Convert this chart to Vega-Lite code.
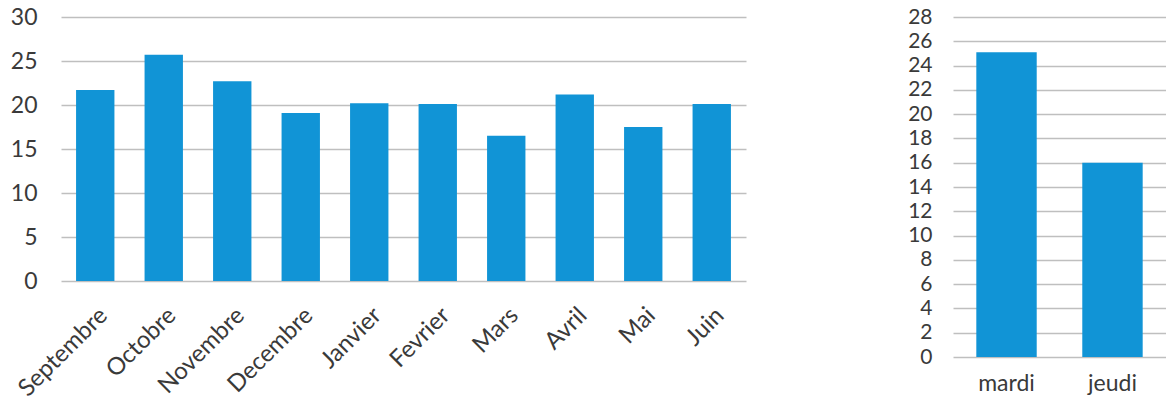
{
  "$schema": "https://vega.github.io/schema/vega-lite/v6.json",
  "background": "white",
  "padding": {"left": 10, "top": 6, "right": 0, "bottom": 0},
  "spacing": 161,
  "config": {
    "view": {"stroke": null},
    "font": "Lato",
    "axis": {
      "labelFont": "Lato",
      "labelColor": "#3A3A3A",
      "domain": false,
      "ticks": false,
      "gridColor": "#BFBFBF",
      "gridWidth": 1.5,
      "title": null
    },
    "bar": {"color": "#1194D6"}
  },
  "hconcat": [
    {
      "width": 685,
      "height": 264,
      "data": {
        "values": [
          {"mois": "Septembre", "valeur": 21.7},
          {"mois": "Octobre", "valeur": 25.7},
          {"mois": "Novembre", "valeur": 22.7},
          {"mois": "Decembre", "valeur": 19.1},
          {"mois": "Janvier", "valeur": 20.2},
          {"mois": "Fevrier", "valeur": 20.1},
          {"mois": "Mars", "valeur": 16.5},
          {"mois": "Avril", "valeur": 21.2},
          {"mois": "Mai", "valeur": 17.5},
          {"mois": "Juin", "valeur": 20.1}
        ]
      },
      "mark": "bar",
      "encoding": {
        "x": {
          "field": "mois",
          "type": "nominal",
          "sort": null,
          "scale": {"paddingInner": 0.44, "paddingOuter": 0.22},
          "axis": {"labelAngle": -45, "labelFontSize": 24, "labelPadding": 22}
        },
        "y": {
          "field": "valeur",
          "type": "quantitative",
          "scale": {"domain": [0, 30]},
          "axis": {"values": [0, 5, 10, 15, 20, 25, 30], "labelFontSize": 23, "labelPadding": 24}
        }
      }
    },
    {
      "width": 213,
      "height": 340,
      "data": {
        "values": [
          {"jour": "mardi", "valeur": 25.1},
          {"jour": "jeudi", "valeur": 16}
        ]
      },
      "mark": "bar",
      "encoding": {
        "x": {
          "field": "jour",
          "type": "nominal",
          "sort": null,
          "scale": {"paddingInner": 0.43, "paddingOuter": 0.22},
          "axis": {"labelAngle": 0, "labelFontSize": 23, "labelPadding": 15}
        },
        "y": {
          "field": "valeur",
          "type": "quantitative",
          "scale": {"domain": [0, 28]},
          "axis": {"values": [0, 2, 4, 6, 8, 10, 12, 14, 16, 18, 20, 22, 24, 26, 28], "labelFontSize": 21, "labelPadding": 21}
        }
      }
    }
  ]
}
